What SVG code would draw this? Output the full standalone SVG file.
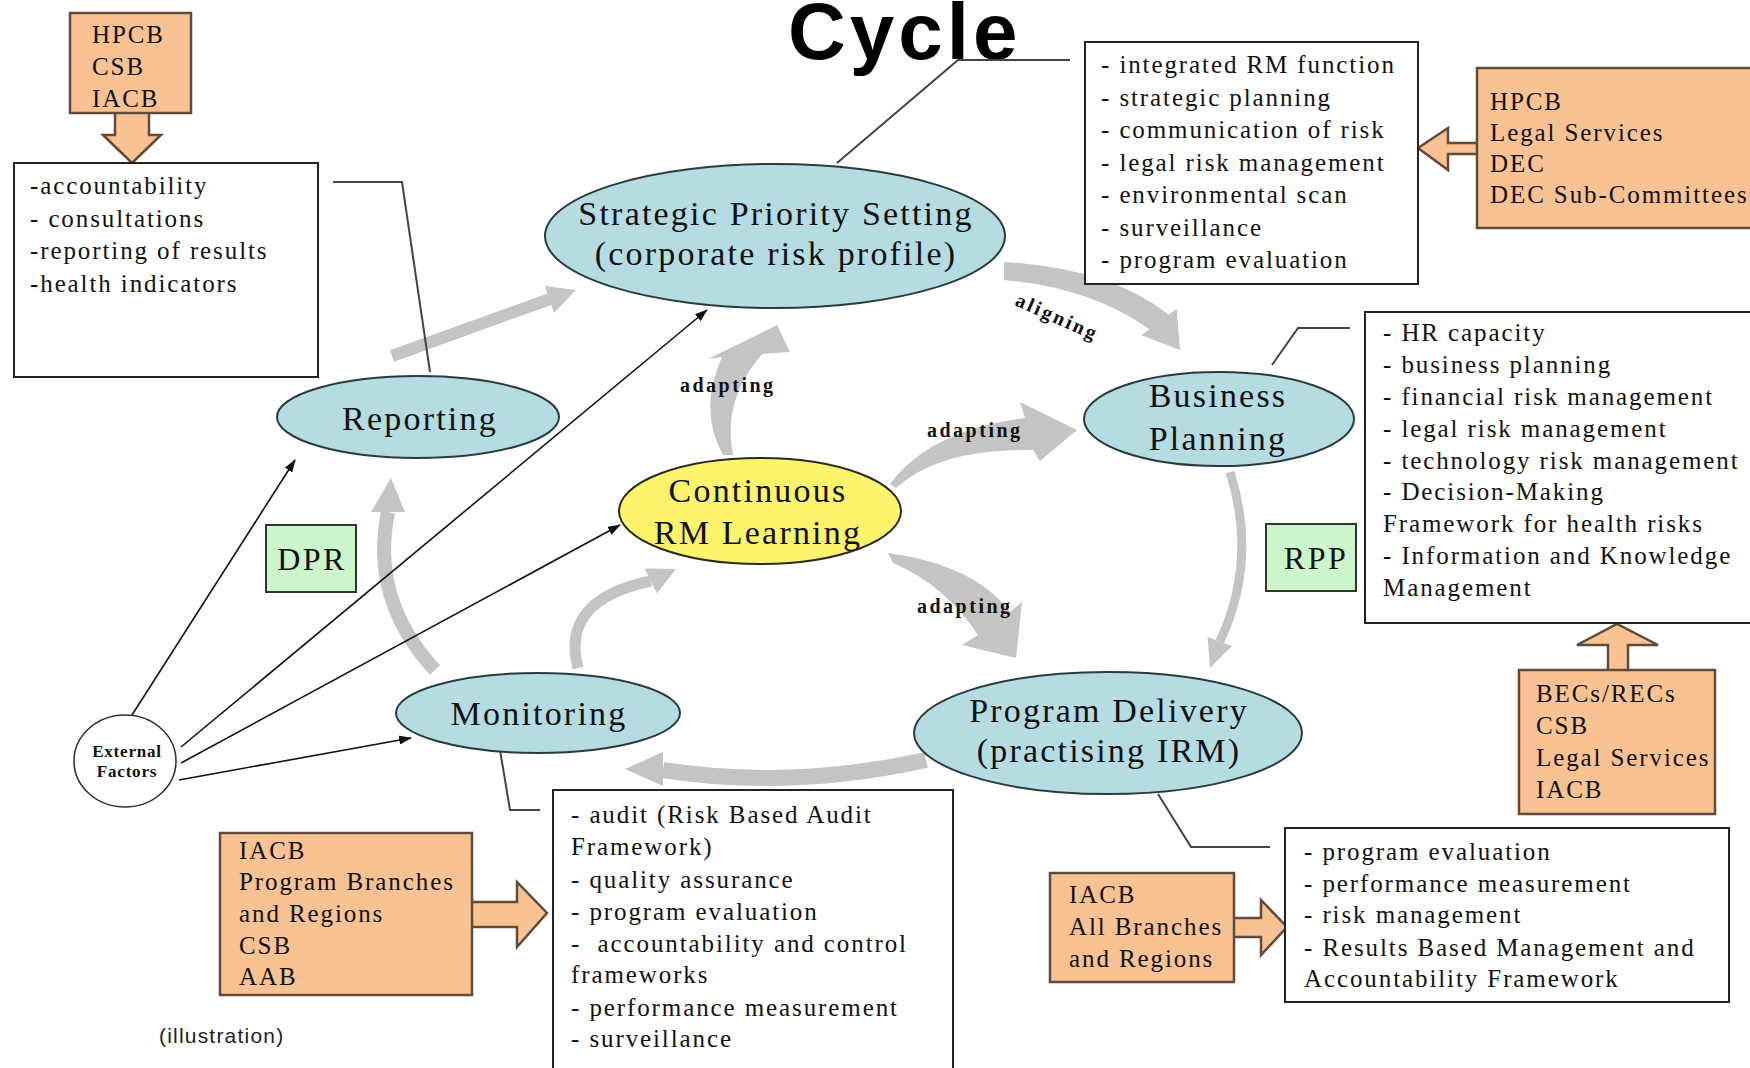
<svg xmlns="http://www.w3.org/2000/svg" width="1750" height="1068" viewBox="0 0 1750 1068">
  <defs>
    <style>
      .t { font-family: "Liberation Serif", "Times New Roman", serif; fill: #111; }
      .body { font-size: 25px; letter-spacing: 1.9px; }
      .oval { font-size: 34px; letter-spacing: 2.2px; text-anchor: middle; }
      .tag { font-size: 32px; letter-spacing: 2.5px; text-anchor: middle; }
      .lbl { font-size: 20px; font-weight: bold; letter-spacing: 2.5px; }
      .box { fill: #ffffff; stroke: #222; stroke-width: 2; }
      .org { fill: #F8C293; stroke: #5f4b3b; stroke-width: 2.5; }
      .ell { fill: #B5DCE2; stroke: #2b3a3c; stroke-width: 2; }
      .green { fill: #CCF5CC; stroke: #333; stroke-width: 2; }
      .gfill { fill: #C4C4C4; }
      .gline { fill: none; stroke: #C4C4C4; }
      .call { fill: none; stroke: #444; stroke-width: 2; }
      .ext { fill: none; stroke: #111; stroke-width: 1.6; marker-end: url(#tip); }
    </style>
    <marker id="tip" markerUnits="userSpaceOnUse" markerWidth="13" markerHeight="9" refX="12" refY="4.5" orient="auto">
      <path d="M0,0 L13,4.5 L0,9 z" fill="#111"/>
    </marker>
  </defs>

  <rect width="1750" height="1068" fill="#ffffff"/>

  <!-- title -->
  <text x="788" y="59" font-family="'Liberation Sans', Arial, sans-serif" font-size="80" font-weight="bold" letter-spacing="4" fill="#000">Cycle</text>

  <!-- connectors: gray cycle arrows, callout lines, external-factor arrows -->
  <g id="connectors">
    <!-- Reporting to Strategic -->
    <path class="gline" d="M 392 356 Q 455 333 550 299" stroke-width="12"/>
    <polygon class="gfill" points="554,313 576,290 545,286"/>
    <!-- Strategic to Business (aligning) -->
    <path class="gfill" d="M 1004 262 Q 1110 268 1168.6 314.8 L 1176.6 308.8 L 1180 350 L 1141.4 335.2 L 1149.4 329.2 Q 1090 287 1004 280 Z"/>
    <!-- Business to Program Delivery -->
    <path class="gline" d="M 1230 472 Q 1258 560 1219.8 641.7" stroke-width="9"/>
    <polygon class="gfill" points="1232,646 1210,668 1207.6,637"/>
    <!-- Program Delivery to Monitoring -->
    <path class="gline" d="M 926 760 Q 790 790 663 770" stroke-width="16"/>
    <polygon class="gfill" points="663,752 625,769 663,786"/>
    <!-- Monitoring to Reporting -->
    <path class="gline" d="M 435 670 Q 370 600 388 512" stroke-width="14"/>
    <polygon class="gfill" points="371,512 391,478 405,512"/>
    <!-- Monitoring to Continuous RM Learning -->
    <path class="gline" d="M 578 668 Q 560 600 650.8 581" stroke-width="11"/>
    <polygon class="gfill" points="656.8,593.6 676,569 644.8,568.4"/>
    <!-- Continuous RM Learning to Strategic -->
    <path class="gfill" d="M 723 455 Q 698 410 722 357 L 708 359 L 777 325 L 790 352 L 762 354 Q 722 400 733 455 Z"/>
    <!-- Continuous RM Learning to Business -->
    <path class="gfill" d="M 890 484 Q 930 430 1025 418 L 1020 402 L 1077 430 L 1040 461 L 1033 450 Q 940 448 896 488 Z"/>
    <!-- Continuous RM Learning to Program Delivery -->
    <path class="gfill" d="M 888 553 Q 975 565 1010 612 L 1022 602 L 1016 658 L 962 645 L 978 635 Q 945 585 893 563 Z"/>

    <!-- callout lines -->
    <polyline class="call" points="430,372 402,182 333,182"/>
    <polyline class="call" points="837,163 958,60 1070,60"/>
    <polyline class="call" points="1272,365 1298,328 1350,328"/>
    <polyline class="call" points="1158,794 1191,847 1270,847"/>
    <polyline class="call" points="496,726 510,810 540,810"/>

    <!-- external factors -->
    <path class="ext" d="M 132 715 L 295 460"/>
    <path class="ext" d="M 181 747 L 707 310"/>
    <path class="ext" d="M 181 763 L 620 525"/>
    <path class="ext" d="M 179 780 L 411 738"/>
  </g>

  <g id="label-aligning">
    <text class="t lbl" transform="translate(1014,305) rotate(24)">aligning</text>
  </g>
  <g id="label-adapting-up"><text class="t lbl" x="680" y="392">adapting</text></g>
  <g id="label-adapting-right"><text class="t lbl" x="927" y="437">adapting</text></g>
  <g id="label-adapting-down"><text class="t lbl" x="917" y="613">adapting</text></g>

  <!-- stakeholder boxes with block arrows -->
  <g id="org-top-left">
    <polygon class="org" points="115,112 115,135 103,135 132,163 161,135 149,135 149,112"/>
    <rect class="org" x="70" y="13" width="121" height="100"/>
    <text class="t body"><tspan x="92" y="43">HPCB</tspan><tspan x="92" y="75">CSB</tspan><tspan x="92" y="107">IACB</tspan></text>
  </g>

  <g id="org-top-right">
    <polygon class="org" points="1479,143 1448,143 1448,128 1418,148 1448,170 1448,154 1479,154"/>
    <rect class="org" x="1477" y="68" width="300" height="160"/>
    <text class="t body"><tspan x="1490" y="110">HPCB</tspan><tspan x="1490" y="141">Legal Services</tspan><tspan x="1490" y="172">DEC</tspan><tspan x="1490" y="203">DEC Sub-Committees</tspan></text>
  </g>

  <g id="org-right">
    <polygon class="org" points="1608,672 1608,645 1577,645 1617,624 1658,645 1628,645 1628,672"/>
    <rect class="org" x="1519" y="670" width="196" height="144"/>
    <text class="t body"><tspan x="1536" y="702">BECs/RECs</tspan><tspan x="1536" y="734">CSB</tspan><tspan x="1536" y="766">Legal Services</tspan><tspan x="1536" y="798">IACB</tspan></text>
  </g>

  <g id="org-bottom-right">
    <polygon class="org" points="1232,918 1261,918 1261,900 1287,927 1261,955 1261,937 1232,937"/>
    <rect class="org" x="1050" y="873" width="184" height="109"/>
    <text class="t body"><tspan x="1069" y="903">IACB</tspan><tspan x="1069" y="935">All Branches</tspan><tspan x="1069" y="967">and Regions</tspan></text>
  </g>

  <g id="org-bottom-left">
    <polygon class="org" points="470,902 517,902 517,882 547,913 517,947 517,927 470,927"/>
    <rect class="org" x="220" y="833" width="252" height="162"/>
    <text class="t body"><tspan x="239" y="859">IACB</tspan><tspan x="239" y="890">Program Branches</tspan><tspan x="239" y="922">and Regions</tspan><tspan x="239" y="954">CSB</tspan><tspan x="239" y="985">AAB</tspan></text>
  </g>

  <!-- activity lists -->
  <g id="list-reporting">
    <rect class="box" x="14" y="163" width="304" height="214"/>
    <text class="t body"><tspan x="30" y="194">-accountability</tspan><tspan x="30" y="227">- consultations</tspan><tspan x="30" y="259">-reporting of results</tspan><tspan x="30" y="292">-health indicators</tspan></text>
  </g>

  <g id="list-strategic">
    <rect class="box" x="1085" y="42" width="333" height="242"/>
    <text class="t body"><tspan x="1101" y="73">- integrated RM function</tspan><tspan x="1101" y="106">- strategic planning</tspan><tspan x="1101" y="138">- communication of risk</tspan><tspan x="1101" y="171">- legal risk management</tspan><tspan x="1101" y="203">- environmental scan</tspan><tspan x="1101" y="236">- surveillance</tspan><tspan x="1101" y="268">- program evaluation</tspan></text>
  </g>

  <g id="list-business">
    <rect class="box" x="1365" y="312" width="400" height="311"/>
    <text class="t body"><tspan x="1383" y="341">- HR capacity</tspan><tspan x="1383" y="373">- business planning</tspan><tspan x="1383" y="405">- financial risk management</tspan><tspan x="1383" y="437">- legal risk management</tspan><tspan x="1383" y="469">- technology risk management</tspan><tspan x="1383" y="500">- Decision-Making</tspan><tspan x="1383" y="532">Framework for health risks</tspan><tspan x="1383" y="564">- Information and Knowledge</tspan><tspan x="1383" y="596">Management</tspan></text>
  </g>

  <g id="list-monitoring">
    <rect class="box" x="553" y="790" width="400" height="290"/>
    <text class="t body"><tspan x="571" y="823">- audit (Risk Based Audit</tspan><tspan x="571" y="855">Framework)</tspan><tspan x="571" y="888">- quality assurance</tspan><tspan x="571" y="920">- program evaluation</tspan><tspan x="571" y="952" xml:space="preserve">-  accountability and control</tspan><tspan x="571" y="983">frameworks</tspan><tspan x="571" y="1016">- performance measurement</tspan><tspan x="571" y="1047">- surveillance</tspan></text>
  </g>

  <g id="list-delivery">
    <rect class="box" x="1285" y="828" width="444" height="174"/>
    <text class="t body"><tspan x="1304" y="860">- program evaluation</tspan><tspan x="1304" y="892">- performance measurement</tspan><tspan x="1304" y="923">- risk management</tspan><tspan x="1304" y="956">- Results Based Management and</tspan><tspan x="1304" y="987">Accountability Framework</tspan></text>
  </g>

  <!-- cycle stages -->
  <g id="strategic">
    <ellipse class="ell" cx="775" cy="236" rx="230" ry="72"/>
    <text class="t oval"><tspan x="776" y="225">Strategic Priority Setting</tspan><tspan x="776" y="265">(corporate risk profile)</tspan></text>
  </g>
  <g id="reporting">
    <ellipse class="ell" cx="418" cy="417" rx="141" ry="41"/>
    <text class="t oval" x="420" y="430">Reporting</text>
  </g>
  <g id="business">
    <ellipse class="ell" cx="1219" cy="419" rx="135" ry="47"/>
    <text class="t oval"><tspan x="1218" y="407">Business</tspan><tspan x="1218" y="450">Planning</tspan></text>
  </g>
  <g id="learning">
    <ellipse cx="760" cy="511" rx="141" ry="53" fill="#FBF46C" stroke="#2b2b1c" stroke-width="2"/>
    <text class="t oval"><tspan x="758" y="502">Continuous</tspan><tspan x="758" y="544">RM Learning</tspan></text>
  </g>
  <g id="delivery">
    <ellipse class="ell" cx="1108" cy="733" rx="194" ry="61"/>
    <text class="t oval"><tspan x="1109" y="722">Program Delivery</tspan><tspan x="1109" y="762">(practising IRM)</tspan></text>
  </g>
  <g id="monitoring">
    <ellipse class="ell" cx="538" cy="713" rx="142" ry="40"/>
    <text class="t oval" x="539" y="725">Monitoring</text>
  </g>
  <g id="external">
    <ellipse cx="125" cy="761" rx="51" ry="46" fill="#ffffff" stroke="#333" stroke-width="1.6"/>
    <text class="t" font-size="17" font-weight="bold" letter-spacing="0.8" text-anchor="middle"><tspan x="127" y="757">External</tspan><tspan x="127" y="777">Factors</tspan></text>
  </g>

  <g id="dpr">
    <rect class="green" x="266" y="525" width="90" height="67"/>
    <text class="t tag" x="312" y="570">DPR</text>
  </g>
  <g id="rpp">
    <rect class="green" x="1266" y="524" width="90" height="67"/>
    <text class="t tag" x="1316" y="569">RPP</text>
  </g>

  <text x="159" y="1043" font-family="'Liberation Sans', Arial, sans-serif" font-size="21" letter-spacing="1.2" fill="#222">(illustration)</text>
</svg>
